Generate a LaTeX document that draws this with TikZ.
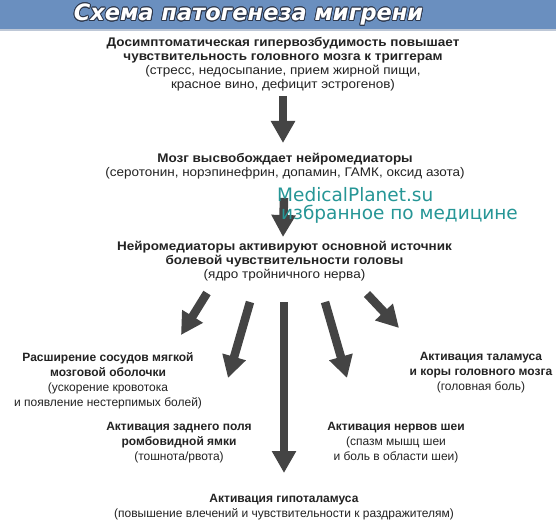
\documentclass[tikz,border=0pt]{standalone}
\usepackage{fontspec}
\setmainfont{Liberation Sans}
\newfontfamily\widefont{Liberation Sans}[FakeStretch=1.08]
\newfontfamily\titlefont{DejaVu Sans}
\newfontfamily\wmfont{DejaVu Sans}
\usepackage{contour}
\contourlength{0.8pt}
\contournumber{16}
\usetikzlibrary{arrows.meta}
\definecolor{barblue}{RGB}{106,143,191}
\definecolor{baredge}{RGB}{190,200,215}
\definecolor{arrowgray}{RGB}{68,68,68}
\definecolor{wmteal}{RGB}{38,150,150}
\definecolor{txtgray}{RGB}{35,35,35}
\definecolor{titleedge}{RGB}{45,55,75}
\begin{document}
\begin{tikzpicture}[x=1pt,y=-1pt,
  txtup/.style={align=center, font=\widefont\fontsize{12.5}{14}\selectfont, text=txtgray, inner sep=0pt},
  txtlow/.style={align=center, font=\fontsize{12}{15}\selectfont, text=txtgray, inner sep=0pt},
  fat/.style={draw=arrowgray, line width=8.5pt, -{Triangle[width=23pt,length=22pt]}},
  titletxt/.style={font=\titlefont\fontsize{22.5}{26}\selectfont\bfseries\itshape, inner sep=0pt, text=white},
  wm/.style={font=\wmfont\fontsize{18.5}{20}\selectfont, text=wmteal, inner sep=0pt}
]
\useasboundingbox (0,0) rectangle (556,526);
\fill[white] (0,0) rectangle (556,526);
\fill[barblue] (0,0) rectangle (556,29);
\fill[baredge] (0,29) rectangle (556,31);

% title
\node[titletxt] (title) at (248.5,15) {\contour{titleedge}{Схема патогенеза мигрени}};

% text blocks
\node[txtup] (trigger) at (283,64) {\textbf{Досимптоматическая гипервозбудимость повышает}\\
  \textbf{чувствительность головного мозга к триггерам}\\
  (стресс, недосыпание, прием жирной пищи,\\
  красное вино, дефицит эстрогенов)};
\node[txtup] (release) at (285,166.5) {\textbf{Мозг высвобождает нейромедиаторы}\\
  (серотонин, норэпинефрин, допамин, ГАМК, оксид азота)};
\node[txtup] (nucleus) at (284.5,261) {\textbf{Нейромедиаторы активируют основной источник}\\
  \textbf{болевой чувствительности головы}\\
  (ядро тройничного нерва)};
\node[txtlow] (vessels) at (108,380.5) {\textbf{Расширение сосудов мягкой}\\
  \textbf{мозговой оболочки}\\
  (ускорение кровотока\\
  и появление нестерпимых болей)};
\node[txtlow] (thalamus) at (481,373) {\textbf{Активация таламуса}\\
  \textbf{и коры головного мозга}\\
  (головная боль)};
\node[txtlow] (fossa) at (179,443) {\textbf{Активация заднего поля}\\
  \textbf{ромбовидной ямки}\\
  (тошнота/рвота)};
\node[txtlow] (neck) at (396,443) {\textbf{Активация нервов шеи}\\
  (спазм мышц шеи\\
  и боль в области шеи)};
\node[txtlow] (hypo) at (284,507.5) {\textbf{Активация гипоталамуса}\\
  (повышение влечений и чувствительности к раздражителям)};

% arrow end points
\coordinate (a1s) at (283,96);   \coordinate (a1e) at (283,143);
\coordinate (a2s) at (284,198);  \coordinate (a2e) at (283,237);
\coordinate (f1s) at (207,293);  \coordinate (f1e) at (181,335);
\coordinate (f2s) at (250,302);  \coordinate (f2e) at (228,378);
\coordinate (f3s) at (284,302);  \coordinate (f3e) at (284,473);
\coordinate (f4s) at (325,302);  \coordinate (f4e) at (347,378);
\coordinate (f5s) at (367,294);  \coordinate (f5e) at (399,328);

\draw[fat] (a1s) -- (a1e);
\draw[fat] (a2s) -- (a2e);
\draw[fat] (f1s) -- (f1e);
\draw[fat] (f2s) -- (f2e);
\draw[fat] (f3s) -- (f3e);
\draw[fat] (f4s) -- (f4e);
\draw[fat] (f5s) -- (f5e);

% watermark
\node[wm, anchor=west] (wm1) at (277,195) {MedicalPlanet.su};
\node[wm, anchor=west] (wm2) at (281,214) {избранное по медицине};
\end{tikzpicture}
\end{document}
